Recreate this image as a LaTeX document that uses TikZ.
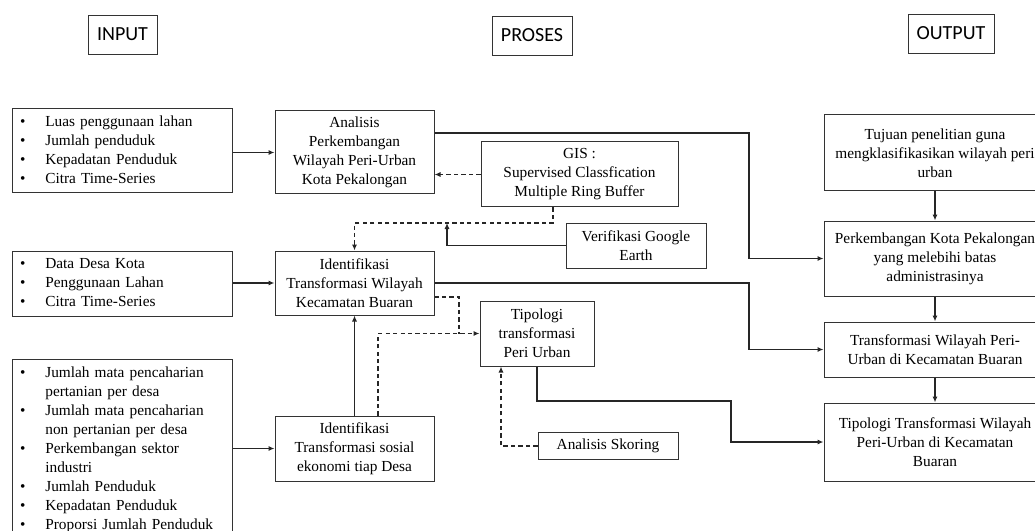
\documentclass[tikz,border=0pt]{standalone}
\usepackage{fontspec}
\setmainfont{Liberation Serif}
\newfontfamily\hdrfont{Carlito}
\usetikzlibrary{arrows.meta}

\begin{document}
\begin{tikzpicture}[
                x=0.75pt, y=-0.75pt,
                box/.style={draw=black!80, line width=0.75pt, align=center, inner sep=2pt,
                    font=\fontsize{11.5}{14.25}\selectfont},
                lst/.style={box, align=left, inner xsep=6pt, text width=153pt},
                hdr/.style={draw=black!80, line width=0.6pt, inner sep=0pt, minimum height=29.25pt,
                    font=\hdrfont\fontsize{15}{18}\selectfont},
                link/.style={draw=black!85, line width=0.95pt, -{Latex[length=4.5pt,width=3.8pt]}},
                dline/.style={draw=black!85, line width=0.95pt, dash pattern=on 3.2pt off 2.4pt},
                dlink/.style={dline, -{Latex[length=4.5pt,width=3.8pt]}}
            ]
                \path[use as bounding box, clip] (0,0) rectangle (1035,531);
                % headers
                \node[hdr, minimum width=51.75pt] (hin) at (122.5,34.5) {INPUT};
                \node[hdr, minimum width=60pt] (hpro) at (532,35.5) {PROSES};
                \node[hdr, minimum width=64.5pt] (hout) at (951,33.5) {OUTPUT};
                % input
                \node[lst, minimum height=63pt] (in1) at (122,151) {%
                    \begin{tabular}{@{}p{19pt}@{}l@{}}
                        \textbullet & Luas penggunaan lahan\\
                        \textbullet & Jumlah penduduk\\
                        \textbullet & Kepadatan Penduduk\\
                        \textbullet & Citra Time-Series
                    \end{tabular}};
                \node[lst, minimum height=48.75pt] (in2) at (122,283.5) {%
                    \begin{tabular}{@{}p{19pt}@{}l@{}}
                        \textbullet & Data Desa Kota\\
                        \textbullet & Penggunaan Lahan\\
                        \textbullet & Citra Time-Series
                    \end{tabular}};
                \node[lst, minimum height=135.75pt] (in3) at (122,449.5) {%
                    \begin{tabular}{@{}p{19pt}@{}l@{}}
                        \textbullet & Jumlah mata pencaharian\\
                                    & pertanian per desa\\
                        \textbullet & Jumlah mata pencaharian\\
                                    & non pertanian per desa\\
                        \textbullet & Perkembangan sektor\\
                                    & industri\\
                        \textbullet & Jumlah Penduduk\\
                        \textbullet & Kepadatan Penduduk\\
                        \textbullet & Proporsi Jumlah Penduduk
                    \end{tabular}};
                % proses
                \node[box, minimum width=119.25pt, minimum height=62.25pt] (ana) at (354.5,152.5)
                    {Analisis\\Perkembangan\\Wilayah Peri-Urban\\Kota Pekalongan};
                \node[box, minimum width=119.25pt, minimum height=48pt] (wil) at (354.5,283)
                    {Identifikasi\\Transformasi Wilayah\\Kecamatan Buaran};
                \node[box, minimum width=119.25pt, minimum height=48.75pt] (sos) at (354.5,448.5)
                    {Identifikasi\\Transformasi sosial\\ekonomi tiap Desa};
                \node[box, minimum width=147.75pt, minimum height=48.75pt] (gis) at (579.5,174.5)
                    {GIS :\\Supervised Classfication\\Multiple Ring Buffer};
                \node[box, minimum width=105pt, minimum height=33.75pt] (ver) at (636,245.5)
                    {Verifikasi Google\\Earth};
                \node[box, minimum width=85.5pt, minimum height=48.75pt] (tip) at (537,333.5)
                    {Tipologi\\transformasi\\Peri Urban};
                \node[box, minimum width=105pt, minimum height=20.25pt] (sko) at (608,446)
                    {Analisis Skoring};
                % output
                \node[box, minimum width=166.5pt, minimum height=57pt] (out1) at (935,153)
                    {Tujuan penelitian guna\\mengklasifikasikan wilayah peri\\urban};
                \node[box, minimum width=166.5pt, minimum height=56.25pt] (out2) at (935,258.5)
                    {Perkembangan Kota Pekalongan\\yang melebihi batas\\administrasinya};
                \node[box, minimum width=166.5pt, minimum height=41.25pt] (out3) at (935,349.5)
                    {Transformasi Wilayah Peri-\\Urban di Kecamatan Buaran};
                \node[box, minimum width=166.5pt, minimum height=58.5pt] (out4) at (935,442)
                    {Tipologi Transformasi Wilayah\\Peri-Urban di Kecamatan\\Buaran};
                % bends
                \coordinate (busA) at (749,133);
                \coordinate (busC) at (731,401);
                \coordinate (gisdrop) at (553,223);
                \coordinate (verhit) at (447,223);
                \coordinate (tipjoin) at (459,333.5);
                % solid links
                \draw[link] (ana.west -| in1.east) -- (ana.west);
                \draw[link] (wil.west -| in2.east) -- (wil.west);
                \draw[link] (sos.west -| in3.east) -- (sos.west);
                \draw[link] (busA -| ana.east) -- (busA) |- (out2.west);
                \draw[link] (wil.east) -- (wil.east -| busA) |- (out3.west);
                \draw[link] (tip.south) |- (busC) |- (out4.west);
                \draw[link] (out1) -- (out2);
                \draw[link] (out2) -- (out3);
                \draw[link] (out3) -- (out4);
                \draw[link] (sos.north) -- (wil.south);
                \draw[link] (ver.west) -| (verhit);
                % dashed links
                \draw[dlink] (gis.west) -- (gis.west -| ana.east);
                \draw[dlink] (gisdrop |- gis.south) -- (gisdrop) -| (wil.north);
                \draw[dline] ([yshift=-10.5pt]wil.east) -| (tipjoin);
                \draw[dlink] ([xshift=17.6pt]sos.north) |- (tip.west);
                \draw[dlink] (sko.west) -| ([xshift=-27pt]tip.south);
            \end{tikzpicture}
\end{document}
